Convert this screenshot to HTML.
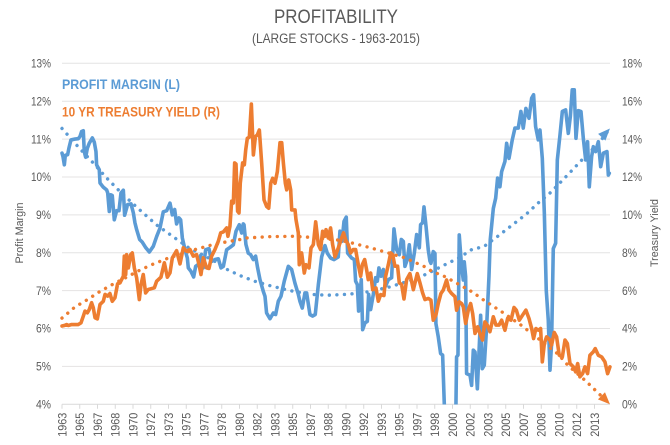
<!DOCTYPE html>
<html lang="en">
<head>
<meta charset="utf-8">
<title>Profitability</title>
<style>
html,body{margin:0;padding:0;background:#fff;}
#chart{display:block;width:670px;height:445px;font-family:"Liberation Sans",sans-serif;}
</style>
</head>
<body>
<svg id="chart" xmlns="http://www.w3.org/2000/svg" width="670" height="445" viewBox="0 0 670 445">
  <defs>
    <clipPath id="plot-clip"><rect x="60" y="60" width="553" height="344.5"></rect></clipPath>
  </defs>
  <rect x="0" y="0" width="670" height="445" fill="#ffffff"></rect>
  <g id="grid"></g>
  <g id="x-axis"></g>
  <g id="y-left"></g>
  <g id="y-right"></g>
  <g id="series"></g>
  <text x="336" y="23" text-anchor="middle" font-size="19" fill="#595959" textLength="124" lengthAdjust="spacingAndGlyphs">PROFITABILITY</text>
  <text x="336" y="43" text-anchor="middle" font-size="13.5" fill="#595959" textLength="168" lengthAdjust="spacingAndGlyphs">(LARGE STOCKS - 1963-2015)</text>
  <text x="62" y="89" font-size="14" font-weight="bold" fill="#5B9BD5" textLength="118" lengthAdjust="spacingAndGlyphs">PROFIT MARGIN (L)</text>
  <text x="62" y="116.5" font-size="14" font-weight="bold" fill="#ED7D31" textLength="158" lengthAdjust="spacingAndGlyphs">10 YR TREASURY YIELD (R)</text>
  <text transform="translate(23,233) rotate(-90)" text-anchor="middle" font-size="11" fill="#595959" textLength="61" lengthAdjust="spacingAndGlyphs">Profit Margin</text>
  <text transform="translate(658,233) rotate(-90)" text-anchor="middle" font-size="11" fill="#595959" textLength="68" lengthAdjust="spacingAndGlyphs">Treasury Yield</text>
</svg>
<script>
const xTickLabels = ["1963","1965","1967","1968","1970","1972","1973","1975","1977","1978","1980","1982","1983","1985","1987","1988","1990","1992","1993","1995","1997","1998","2000","2002","2003","2005","2007","2008","2010","2012","2013"];
const leftTicks = [4,5,6,7,8,9,10,11,12,13];
const rightTicks = [0,2,4,6,8,10,12,14,16,18];

const marginYears = [1963.00,1963.09,1963.22,1963.31,1963.53,1963.65,1963.84,1964.22,1964.53,1964.69,1964.84,1965.00,1965.09,1965.22,1965.38,1965.56,1965.85,1966.03,1966.19,1966.25,1966.50,1966.57,1966.88,1967.19,1967.29,1967.44,1967.57,1967.72,1967.91,1968.13,1968.35,1968.54,1968.76,1968.88,1969.16,1969.48,1969.70,1969.85,1970.01,1970.29,1970.54,1970.85,1971.20,1971.57,1971.89,1972.20,1972.51,1972.83,1973.14,1973.36,1973.58,1973.76,1973.98,1974.14,1974.30,1974.55,1974.77,1974.86,1975.11,1975.36,1975.55,1975.80,1976.02,1976.27,1976.49,1976.80,1977.05,1977.36,1977.68,1977.93,1978.15,1978.46,1978.77,1979.09,1979.34,1979.65,1979.87,1980.02,1980.09,1980.27,1980.49,1980.71,1980.96,1981.18,1981.37,1981.59,1981.90,1982.06,1982.21,1982.53,1982.84,1983.06,1983.31,1983.56,1983.87,1984.25,1984.56,1984.87,1985.19,1985.34,1985.56,1985.81,1985.97,1986.28,1986.53,1986.78,1987.07,1987.38,1987.69,1987.91,1988.22,1988.54,1988.94,1989.10,1989.29,1989.48,1989.69,1989.82,1990.20,1990.45,1990.57,1990.73,1990.85,1991.10,1991.23,1991.45,1991.67,1991.79,1991.98,1992.23,1992.45,1992.61,1992.76,1992.95,1993.17,1993.39,1993.64,1993.95,1994.17,1994.42,1994.67,1994.86,1995.05,1995.20,1995.42,1995.61,1995.83,1996.08,1996.30,1996.55,1996.67,1996.86,1996.99,1997.18,1997.39,1997.55,1997.64,1997.86,1998.02,1998.11,1998.33,1998.55,1998.74,1998.90,1999.02,1999.83,1999.99,2000.05,2000.18,2000.30,2000.52,2000.68,2000.77,2000.90,2000.99,2001.31,2001.46,2001.62,2001.78,2002.00,2002.31,2002.46,2002.65,2002.87,2003.09,2003.21,2003.50,2003.72,2003.90,2004.12,2004.28,2004.59,2004.75,2004.97,2005.28,2005.53,2005.84,2006.09,2006.31,2006.56,2006.85,2007.10,2007.28,2007.47,2007.72,2007.88,2008.10,2008.29,2008.47,2008.66,2008.82,2008.97,2009.13,2009.35,2009.51,2009.76,2009.98,2010.29,2010.54,2010.73,2010.91,2011.10,2011.26,2011.48,2011.73,2011.95,2012.17,2012.35,2012.51,2012.73,2012.89,2013.11,2013.36,2013.58,2013.83,2014.17,2014.30,2014.39];
const marginValues = [10.63,10.54,10.32,10.57,10.59,10.76,10.98,11.00,11.01,11.07,11.20,11.22,10.67,10.52,10.76,10.89,11.03,10.92,10.67,10.32,10.19,9.84,9.73,9.66,9.58,9.09,9.53,9.51,8.87,9.11,9.11,9.58,9.65,8.99,9.27,9.29,9.05,8.79,8.61,8.35,8.28,8.14,8.02,8.17,8.43,8.65,9.08,9.11,9.31,9.00,9.14,8.76,8.92,8.87,8.39,8.08,7.86,7.60,7.51,7.36,7.64,7.69,7.93,7.60,8.08,8.11,7.77,7.82,7.84,7.60,7.64,8.08,8.14,8.21,8.57,8.74,8.52,8.76,8.74,8.22,7.99,7.95,7.82,7.91,7.60,7.29,6.98,6.85,6.41,6.26,6.41,6.37,6.72,6.85,7.25,7.64,7.56,7.20,6.90,6.72,6.54,6.94,6.94,6.37,6.33,6.37,7.16,7.89,8.19,7.99,7.86,7.82,7.89,8.57,8.30,8.83,8.94,7.99,7.86,7.82,7.25,7.16,6.46,7.29,5.97,6.15,6.19,6.90,6.50,6.90,7.34,7.25,7.60,7.38,7.56,7.12,7.29,7.34,8.63,8.08,7.95,8.35,8.30,7.64,7.82,8.21,7.56,7.99,8.48,8.13,8.74,8.79,9.21,8.70,8.08,7.78,7.72,8.03,7.98,6.13,5.78,5.34,5.30,3.97,3.22,3.22,3.97,5.25,5.30,8.47,7.63,7.28,7.76,7.37,4.81,4.77,4.50,5.43,5.38,4.41,6.35,4.94,5.03,6.04,7.37,8.34,9.17,9.44,9.97,9.74,10.14,10.41,10.89,10.49,10.98,11.29,11.29,11.73,11.29,11.81,11.55,12.08,12.17,11.33,10.98,11.24,10.49,9.04,7.01,6.22,4.90,5.60,8.11,8.25,10.45,11.11,11.73,11.77,11.15,11.59,12.30,12.30,11.02,11.75,11.73,11.02,10.45,10.93,9.74,10.54,10.80,10.67,10.93,10.27,10.63,10.67,10.05,10.10];

const yieldYears = [1963.00,1963.22,1963.44,1963.59,1963.91,1964.22,1964.53,1964.78,1965.00,1965.16,1965.38,1965.56,1965.78,1965.94,1966.10,1966.32,1966.57,1966.88,1967.04,1967.29,1967.50,1967.72,1967.97,1968.22,1968.44,1968.76,1968.85,1968.98,1969.07,1969.23,1969.45,1969.60,1969.79,1970.01,1970.26,1970.42,1970.63,1970.85,1971.10,1971.42,1971.67,1971.89,1972.29,1972.61,1972.89,1973.14,1973.36,1973.76,1974.08,1974.39,1974.70,1975.02,1975.33,1975.64,1975.86,1976.05,1976.27,1976.58,1976.80,1977.05,1977.36,1977.68,1977.90,1978.15,1978.46,1978.58,1978.77,1978.93,1979.09,1979.21,1979.34,1979.49,1979.62,1979.74,1979.96,1980.12,1980.25,1980.40,1980.59,1980.78,1980.97,1981.16,1981.34,1981.53,1981.75,1981.97,1982.22,1982.41,1982.60,1982.78,1983.00,1983.22,1983.47,1983.63,1983.79,1983.97,1984.10,1984.29,1984.47,1984.57,1984.88,1984.97,1985.19,1985.28,1985.50,1985.75,1985.91,1986.19,1986.38,1986.60,1986.82,1987.07,1987.28,1987.47,1987.69,1987.79,1988.00,1988.22,1988.41,1988.63,1988.94,1989.26,1989.44,1989.63,1989.88,1990.10,1990.35,1990.57,1990.82,1991.04,1991.20,1991.42,1991.60,1991.76,1991.98,1992.17,1992.48,1992.70,1992.92,1993.23,1993.39,1993.64,1993.86,1994.05,1994.26,1994.51,1994.67,1994.89,1995.11,1995.36,1995.67,1995.99,1996.36,1996.61,1996.86,1997.08,1997.39,1997.64,1997.86,1998.11,1998.33,1998.58,1998.80,1999.11,1999.33,1999.58,1999.90,2000.05,2000.30,2000.52,2000.68,2000.90,2001.15,2001.37,2001.56,2001.78,2002.03,2002.24,2002.49,2002.71,2002.93,2003.18,2003.50,2003.75,2004.03,2004.28,2004.59,2004.84,2005.16,2005.44,2005.66,2005.94,2006.25,2006.56,2006.85,2007.10,2007.28,2007.50,2007.72,2007.94,2008.10,2008.29,2008.50,2008.82,2008.97,2009.22,2009.44,2009.69,2009.98,2010.23,2010.45,2010.70,2011.01,2011.23,2011.42,2011.63,2011.88,2012.10,2012.35,2012.57,2012.89,2013.07,2013.36,2013.67,2013.98,2014.23,2014.45];
const yieldValues = [4.13,4.16,4.21,4.16,4.21,4.21,4.21,4.30,4.65,4.92,4.83,5.00,5.36,5.09,4.57,4.51,5.27,5.44,5.80,5.71,5.85,5.44,5.62,6.36,6.41,6.76,7.82,6.85,7.90,7.20,7.90,7.99,7.20,6.67,5.53,6.32,6.85,5.88,6.06,6.11,6.15,6.50,6.71,7.47,6.71,6.94,7.73,8.11,7.41,8.26,8.08,8.17,7.82,7.90,7.38,6.85,7.73,7.20,7.17,7.82,8.17,8.61,9.05,9.10,9.31,8.87,9.40,10.72,10.63,12.74,12.68,10.19,10.10,11.68,12.74,12.64,13.43,14.04,14.10,15.85,13.16,14.13,14.22,14.48,12.72,10.79,10.44,10.35,11.67,11.93,11.67,12.28,13.81,13.81,12.72,11.67,11.32,11.84,11.32,10.26,10.26,9.75,9.05,7.37,7.99,6.93,7.37,7.20,8.25,8.43,9.63,8.43,8.17,9.13,8.87,9.22,8.78,9.31,8.43,7.78,8.25,8.78,9.05,8.69,8.43,7.99,8.17,8.17,7.37,6.76,7.37,7.64,7.11,6.58,6.93,6.05,6.14,5.44,5.79,5.74,6.76,7.37,7.99,7.90,7.29,7.29,6.41,6.32,5.56,6.58,6.90,6.05,6.90,6.41,5.88,5.53,5.59,5.50,4.44,4.71,5.32,5.85,6.03,6.56,6.03,5.85,5.68,4.97,5.41,5.32,5.15,4.27,4.97,5.32,4.79,3.74,4.09,3.74,3.39,4.35,4.18,3.83,4.62,4.18,4.18,4.44,3.91,4.53,4.44,5.11,4.97,4.44,4.71,4.97,4.53,4.00,3.47,4.00,3.91,4.00,2.24,3.21,3.56,3.39,3.12,3.79,3.56,2.59,2.50,3.39,3.21,2.15,1.98,1.71,2.15,1.45,1.62,1.98,1.62,2.59,2.77,2.94,2.59,2.50,2.24,1.62,1.98];

const marginTrendYears = [1963.0,1964.6,1966.1,1967.1,1968.6,1970.3,1971.9,1973.7,1974.9,1977.2,1978.5,1979.7,1981.06,1982.4,1984.4,1986.4,1988.0,1989.6,1991.2,1992.4,1993.8,1995.3,1996.5,1997.8,1999.0,2000.3,2001.5,2002.6,2003.8,2004.9,2006.6,2007.7,2008.8,2010.4,2011.95,2013.4,2014.45];
const marginTrendValues = [11.28,10.77,10.32,10.00,9.57,9.13,8.73,8.37,8.13,7.80,7.56,7.40,7.25,7.14,7.00,6.90,6.88,6.90,6.94,7.01,7.10,7.23,7.34,7.52,7.69,7.87,8.09,8.16,8.41,8.65,9.02,9.31,9.57,10.03,10.49,10.89,11.28];
const yieldTrendYears = [1963.0,1964.2,1965.4,1966.6,1967.85,1969.07,1970.3,1971.6,1972.85,1975.5,1976.9,1978.2,1979.74,1980.3,1982.5,1984.7,1986.2,1989.1,1990.5,1992.55,1995.2,1997.1,1997.7,1999.0,2000.2,2001.5,2002.6,2004.3,2006.1,2007.9,2009.6,2010.5,2012.2,2013.3,2014.45];
const yieldTrendValues = [4.55,5.13,5.53,5.97,6.36,6.71,7.08,7.41,7.69,8.17,8.39,8.55,8.70,8.78,8.85,8.87,8.82,8.66,8.48,8.17,7.73,7.25,7.03,6.73,6.35,5.94,5.50,4.88,4.18,3.39,2.64,2.06,1.22,0.62,0.00];

const SVGNS = "http://www.w3.org/2000/svg";
const plot = {left:62, right:610, top:63.3, bottom:404.3};
const startYear = 1963, pxPerYear = 10.65, tickStepYears = 20/12;
function xScale(year){ return plot.left + (year - startYear) * pxPerYear; }
function yLeft(v){ return plot.bottom - (v - 4) * (plot.bottom - plot.top) / 9; }
function yRight(v){ return plot.bottom - v * (plot.bottom - plot.top) / 18; }
function make(tag, attrs, parent){
  const el = document.createElementNS(SVGNS, tag);
  for (const k in attrs) el.setAttribute(k, attrs[k]);
  parent.appendChild(el);
  return el;
}
function pathFrom(xs, ys, yFn){
  return xs.map(function(x,i){ return (i?"L":"M") + xScale(x).toFixed(2) + " " + yFn(ys[i]).toFixed(2); }).join(" ");
}
const gridG = document.getElementById("grid");
const xG = document.getElementById("x-axis");
const leftG = document.getElementById("y-left");
const rightG = document.getElementById("y-right");
const seriesG = document.getElementById("series");

leftTicks.forEach(function(v){
  const y = yLeft(v);
  const line = make("line",{x1:plot.left,x2:plot.right,y1:y,y2:y,stroke: v===4 ? "#D9D9D9" : "#E4E3E3","stroke-width":1},gridG);
  
  
  const t = make("text",{x:51,y:y+4.2,"text-anchor":"end","font-size":12,fill:"#595959",textLength:v>=10?20:15,lengthAdjust:"spacingAndGlyphs"},leftG);
  t.textContent = v + "%";
  
  
});
rightTicks.forEach(function(v){
  const y = yRight(v);
  const t = make("text",{x:622,y:y+4.2,"text-anchor":"start","font-size":12,fill:"#595959",textLength:v>=10?20:15,lengthAdjust:"spacingAndGlyphs"},rightG);
  t.textContent = v + "%";
  
  
});
xTickLabels.forEach(function(label,i){
  const x = xScale(startYear + i * tickStepYears);
  const tick = make("line",{x1:x,x2:x,y1:plot.bottom,y2:plot.bottom+4.5,stroke:"#D9D9D9","stroke-width":1},xG);
  
  
  const t = make("text",{transform:"translate("+(x+4.3)+","+(plot.bottom+8.5)+") rotate(-90)","text-anchor":"end","font-size":12,fill:"#595959",textLength:24,lengthAdjust:"spacingAndGlyphs"},xG);
  t.textContent = label;
  
  
});

const BLUE = "#5B9BD5", ORANGE = "#ED7D31";
function drawLine(xs, ys, yFn, color){
  return make("path",{d:pathFrom(xs,ys,yFn),fill:"none",stroke:color,"stroke-width":3.6,"stroke-linejoin":"round","stroke-linecap":"round","clip-path":"url(#plot-clip)"},seriesG);
}
function drawTrend(xs, ys, yFn, color){
  return make("path",{d:pathFrom(xs,ys,yFn),fill:"none",stroke:color,"stroke-width":3.4,"stroke-linecap":"round","stroke-dasharray":"0.01 7.55"},seriesG);
}
function drawArrow(xs, ys, yFn, color, angleDeg){
  const n = xs.length - 1;
  const tx = xScale(xs[n]), ty = yFn(ys[n]);
  const a = angleDeg * Math.PI / 180, len = 12, hw = 5;
  const bx = tx - len * Math.cos(a), by = ty - len * Math.sin(a);
  const nx = -Math.sin(a) * hw, ny = Math.cos(a) * hw;
  return make("polygon",{points:[tx,ty,bx+nx,by+ny,bx-nx,by-ny].map(function(v){return v.toFixed(2);}).join(" "),fill:color},seriesG);
}

const marginLine = drawLine(marginYears, marginValues, yLeft, BLUE);


const marginTrend = drawTrend(marginTrendYears, marginTrendValues, yLeft, BLUE);


const marginArrow = drawArrow(marginTrendYears, marginTrendValues, yLeft, BLUE, -47);


const yieldLine = drawLine(yieldYears, yieldValues, yRight, ORANGE);


const yieldTrend = drawTrend(yieldTrendYears, yieldTrendValues, yRight, ORANGE);


const yieldArrow = drawArrow(yieldTrendYears, yieldTrendValues, yRight, ORANGE, 45);


</script>
</body>
</html>
